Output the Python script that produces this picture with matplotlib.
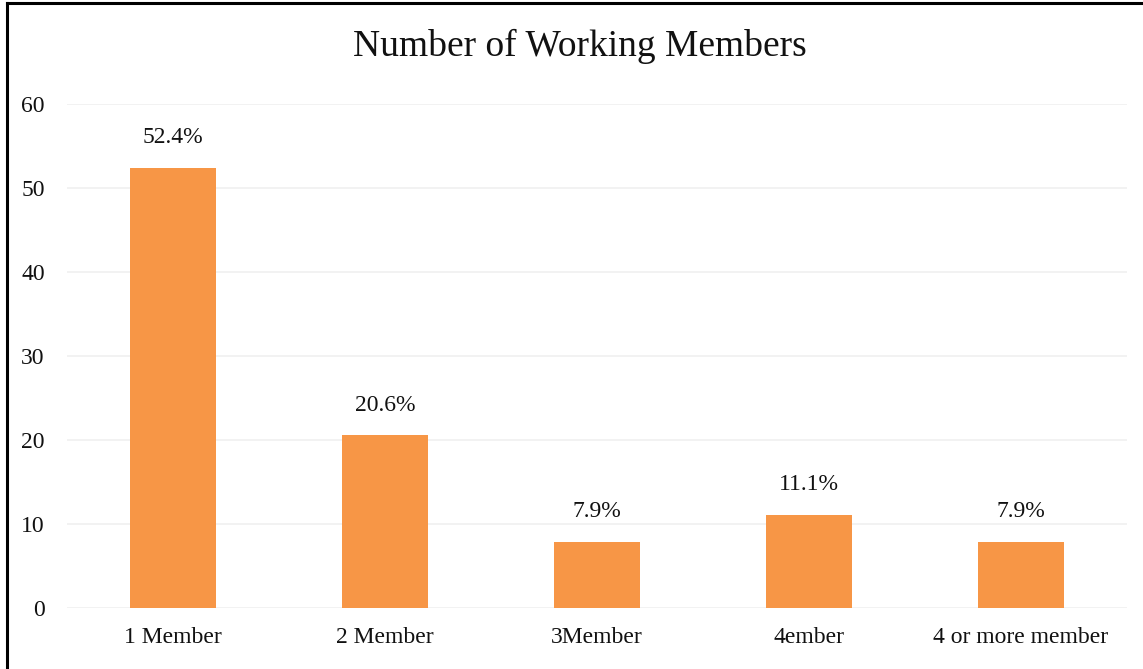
import matplotlib
matplotlib.use("Agg")
import matplotlib.pyplot as plt
from matplotlib.lines import Line2D

categories = ["1 Member", "2 Member", "3Member", "4ember", "4 or more member"]
values = [52.4, 20.6, 7.9, 11.1, 7.9]
yticks = [0, 10, 20, 30, 40, 50, 60]

plt.rcParams["font.family"] = ["Liberation Serif", "DejaVu Serif"]

fig = plt.figure(figsize=(11.43, 6.69), dpi=100)
ax = fig.add_axes([0.0586, 0.0912, 0.9274, 0.7533])

x = list(range(len(categories)))
bars = ax.bar(x, values, width=0.405, color="#F79646", zorder=3)
for rect, v in zip(bars, values):
    ax.annotate(f"{v}%", (rect.get_x() + rect.get_width() / 2, v),
                xytext=(0, 14), textcoords="offset points",
                ha="center", va="bottom", fontsize=17, color="#111111")

ax.set_xlim(-0.5, len(categories) - 0.5)
ax.set_ylim(0, 60)
ax.set_yticks(yticks)
ax.set_xticks(x)
ax.set_xticklabels(categories)
ax.tick_params(axis="both", length=0, labelsize=17, colors="#111111")
ax.tick_params(axis="x", pad=14)
ax.tick_params(axis="y", pad=16)
ax.grid(axis="y", color="#F0F0F0", linewidth=1.2, zorder=0)
for s in ax.spines.values():
    s.set_visible(False)

fig.text(580 / 1143, 1 - 46 / 669, "Number of Working Members", ha="center", va="center",
         fontsize=27, color="#111111")

# frame lines along the top and left edges
fig.add_artist(Line2D([7 / 1143, 7 / 1143], [0, 1 - 3 / 669], transform=fig.transFigure,
                      color="black", linewidth=2.2))
fig.add_artist(Line2D([7 / 1143, 1], [1 - 3 / 669, 1 - 3 / 669], transform=fig.transFigure,
                      color="black", linewidth=2.2))

fig.savefig("out.png", dpi=100, facecolor="white")
